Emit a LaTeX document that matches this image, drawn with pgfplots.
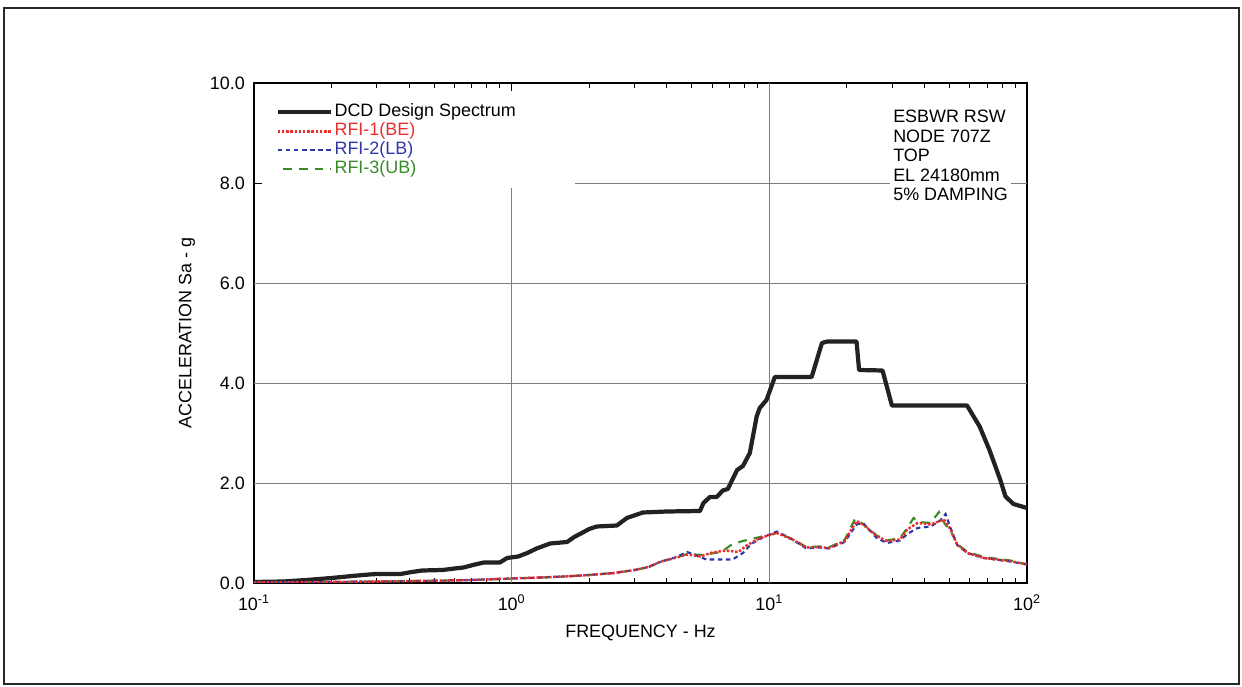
\documentclass[border=0pt]{standalone}
\usepackage{pgfplots}
\pgfplotsset{compat=1.18}
\usepackage{fontspec}
\setmainfont{Liberation Sans}
\definecolor{dcd}{RGB}{34,34,34}
\definecolor{rfired}{RGB}{235,45,45}
\definecolor{rfiblue}{RGB}{45,55,170}
\definecolor{rfigreen}{RGB}{55,140,40}
\definecolor{gridgray}{RGB}{125,125,125}
\newcommand{\cf}{\fontsize{10.2}{11.1}\selectfont}
\begin{document}
\begin{tikzpicture}
\path[use as bounding box] (0,0) rectangle (24.84cm,13.74cm);
\draw[line width=1.3pt, color={rgb,255:red,40;green,40;blue,40}] (0.08cm,0.06cm) rectangle (24.78cm,13.58cm);
\begin{axis}[
 at={(5.08cm,2.08cm)}, anchor=south west,
 scale only axis, width=15.46cm, height=10cm,
 xmode=log, xmin=0.1, xmax=100, ymin=0, ymax=10,
 xtick={0.1,1,10,100},
 xticklabels={10\textsuperscript{-1},10\textsuperscript{0},10\textsuperscript{1},10\textsuperscript{2}},
 ytick={0,2,4,6,8,10}, minor y tick num=0,
 /pgf/number format/assume math mode=true,
 yticklabel style={/pgf/number format/fixed, /pgf/number format/precision=1, /pgf/number format/fixed zerofill, xshift=-0.06cm},
 xticklabel style={yshift=-0.12cm},
 tick label style={font=\cf, black},
 label style={font=\cf},
 tick align=inside, tick pos=both,
 major tick length=0.16cm, minor tick length=0.1cm,
 every tick/.style={black, line width=0.5pt},
 axis line style={black, line width=0.6pt},
 xlabel={FREQUENCY - Hz}, ylabel={ACCELERATION Sa - g},
 xlabel style={at={(axis description cs:0.5,-0.1)}, anchor=center},
 ylabel style={at={(axis description cs:-0.0867,0.5)}, anchor=center},
 legend cell align=left,
 legend image code/.code={\draw[#1] (0cm,0cm) -- (1.06cm,0cm);},
 legend style={at={(axis description cs:0.0275,0.961)}, anchor=north west, draw=none, fill=none, inner sep=0pt, font=\cf, row sep=0pt, nodes={inner sep=1pt, text height=0.24cm, text depth=0.07cm}},
]
% grid
\draw[gridgray, line width=0.5pt] (axis cs:1,0) -- (axis cs:1,7.9);
\draw[gridgray, line width=0.5pt] (axis cs:10,0) -- (axis cs:10,10);
\draw[gridgray, line width=0.5pt] (axis cs:0.1,2) -- (axis cs:100,2);
\draw[gridgray, line width=0.5pt] (axis cs:0.1,4) -- (axis cs:100,4);
\draw[gridgray, line width=0.5pt] (axis cs:0.1,6) -- (axis cs:100,6);
\draw[gridgray, line width=0.5pt] (axis cs:1.76,8) -- (axis cs:100,8);

\addlegendimage{dcd, line width=2.4pt}
\addlegendentry{DCD Design Spectrum}
\addlegendimage{rfired, line width=1.4pt, densely dotted}
\addlegendentry{\textcolor{rfired}{RFI-1(BE)}}
\addlegendimage{rfiblue, line width=1.2pt, dash pattern=on 2.6pt off 2pt}
\addlegendentry{\textcolor{rfiblue}{RFI-2(LB)}}
\addlegendimage{rfigreen, line width=1.2pt, dash pattern=on 5pt off 4pt, dash phase=6pt}
\addlegendentry{\textcolor{rfigreen}{RFI-3(UB)}}

\addplot[forget plot, dcd, line width=2.4pt, line join=round] coordinates {
(0.1,0.02) (0.13,0.03) (0.16,0.06) (0.2,0.1) (0.24,0.14) (0.28,0.17) (0.3,0.18)
(0.37,0.18) (0.41,0.22) (0.45,0.25) (0.54,0.26) (0.6,0.29) (0.65,0.31) (0.72,0.37)
(0.78,0.41) (0.9,0.41) (0.96,0.5) (1.06,0.53) (1.15,0.6) (1.25,0.69) (1.41,0.79)
(1.64,0.82) (1.75,0.92) (2.0,1.08) (2.14,1.13) (2.56,1.15) (2.8,1.3) (3.23,1.41)
(4.0,1.43) (5.38,1.44) (5.55,1.6) (5.88,1.72) (6.25,1.72) (6.6,1.85) (6.9,1.88)
(7.5,2.26) (7.9,2.34) (8.4,2.6) (8.93,3.33) (9.18,3.5) (9.75,3.66) (10.5,4.12)
(14.6,4.12) (16.0,4.8) (16.8,4.83) (21.8,4.83) (22.3,4.26) (27.5,4.25) (29.9,3.55)
(58.5,3.55) (65.5,3.13) (71.5,2.66) (78.8,2.06) (82.5,1.73) (88.6,1.58) (100,1.50)
};
\addplot[forget plot, rfigreen, line width=1.2pt, dash pattern=on 5pt off 4pt] coordinates {
(0.1,0.01) (0.15,0.015) (0.2,0.02) (0.3,0.03) (0.5,0.045) (0.7,0.06) (1.0,0.09)
(1.3,0.11) (1.6,0.13) (2.0,0.16) (2.5,0.2) (3.0,0.26) (3.4,0.32) (3.8,0.43)
(4.3,0.5) (4.8,0.58) (5.5,0.56) (6.5,0.62) (7.2,0.78) (7.9,0.84) (9.2,0.92)
(10.7,1.0) (12.3,0.88) (13.9,0.72) (15.7,0.73) (17,0.71) (19.6,0.86) (21.5,1.28)
(23.1,1.18) (26.1,0.95) (28.6,0.85) (32.2,0.9) (34.3,1.1) (36.3,1.3) (38,1.22)
(42.3,1.2) (45.5,1.42) (48,1.18) (50.5,1.05) (53.6,0.78) (58.7,0.62) (68,0.52)
(86,0.45) (100,0.37)
};
\addplot[forget plot, rfiblue, line width=1.2pt, dash pattern=on 2.6pt off 2pt] coordinates {
(0.1,0.01) (0.15,0.015) (0.2,0.02) (0.3,0.03) (0.5,0.045) (0.7,0.06) (1.0,0.09)
(1.3,0.11) (1.6,0.13) (2.0,0.16) (2.5,0.2) (3.0,0.26) (3.4,0.32) (3.8,0.43)
(4.3,0.51) (4.8,0.62) (5.1,0.57) (5.7,0.47) (7.2,0.47) (7.9,0.6) (8.5,0.78)
(9.5,0.92) (10.7,1.03) (12.3,0.87) (13.9,0.69) (15.7,0.71) (17,0.69) (19.6,0.82)
(21.8,1.17) (23.1,1.2) (26.1,0.9) (28.6,0.8) (32.2,0.85) (34.3,0.98) (37.6,1.1)
(42.3,1.13) (46,1.25) (48.3,1.38) (50.5,1.1) (53.6,0.76) (58.7,0.6) (68,0.5)
(86,0.43) (100,0.37)
};
\addplot[forget plot, rfired, line width=1.4pt, densely dotted] coordinates {
(0.1,0.01) (0.15,0.015) (0.2,0.02) (0.3,0.03) (0.5,0.045) (0.7,0.06) (1.0,0.09)
(1.3,0.11) (1.6,0.13) (2.0,0.16) (2.5,0.2) (3.0,0.26) (3.4,0.32) (3.8,0.43)
(4.3,0.5) (4.8,0.57) (5.1,0.55) (5.4,0.53) (6.0,0.61) (6.8,0.65) (7.6,0.62)
(8.1,0.74) (9.2,0.9) (10.7,1.0) (12.3,0.87) (13.9,0.71) (15.7,0.72) (17.0,0.70)
(19.6,0.84) (21.8,1.24) (23.1,1.17) (26.1,0.94) (28.6,0.84) (32.2,0.87) (34.3,1.07)
(37.6,1.2) (42.3,1.17) (47.6,1.27) (50.5,1.07) (53.6,0.77) (58.7,0.6) (68,0.5)
(86,0.44) (100,0.37)
};
\node[anchor=north west, align=left, fill=white, inner sep=2pt, font=\cf] at (rel axis cs:0.822,0.953) {ESBWR RSW\\NODE 707Z\\TOP\\EL 24180mm\\5\% DAMPING};
\end{axis}
\end{tikzpicture}
\end{document}
